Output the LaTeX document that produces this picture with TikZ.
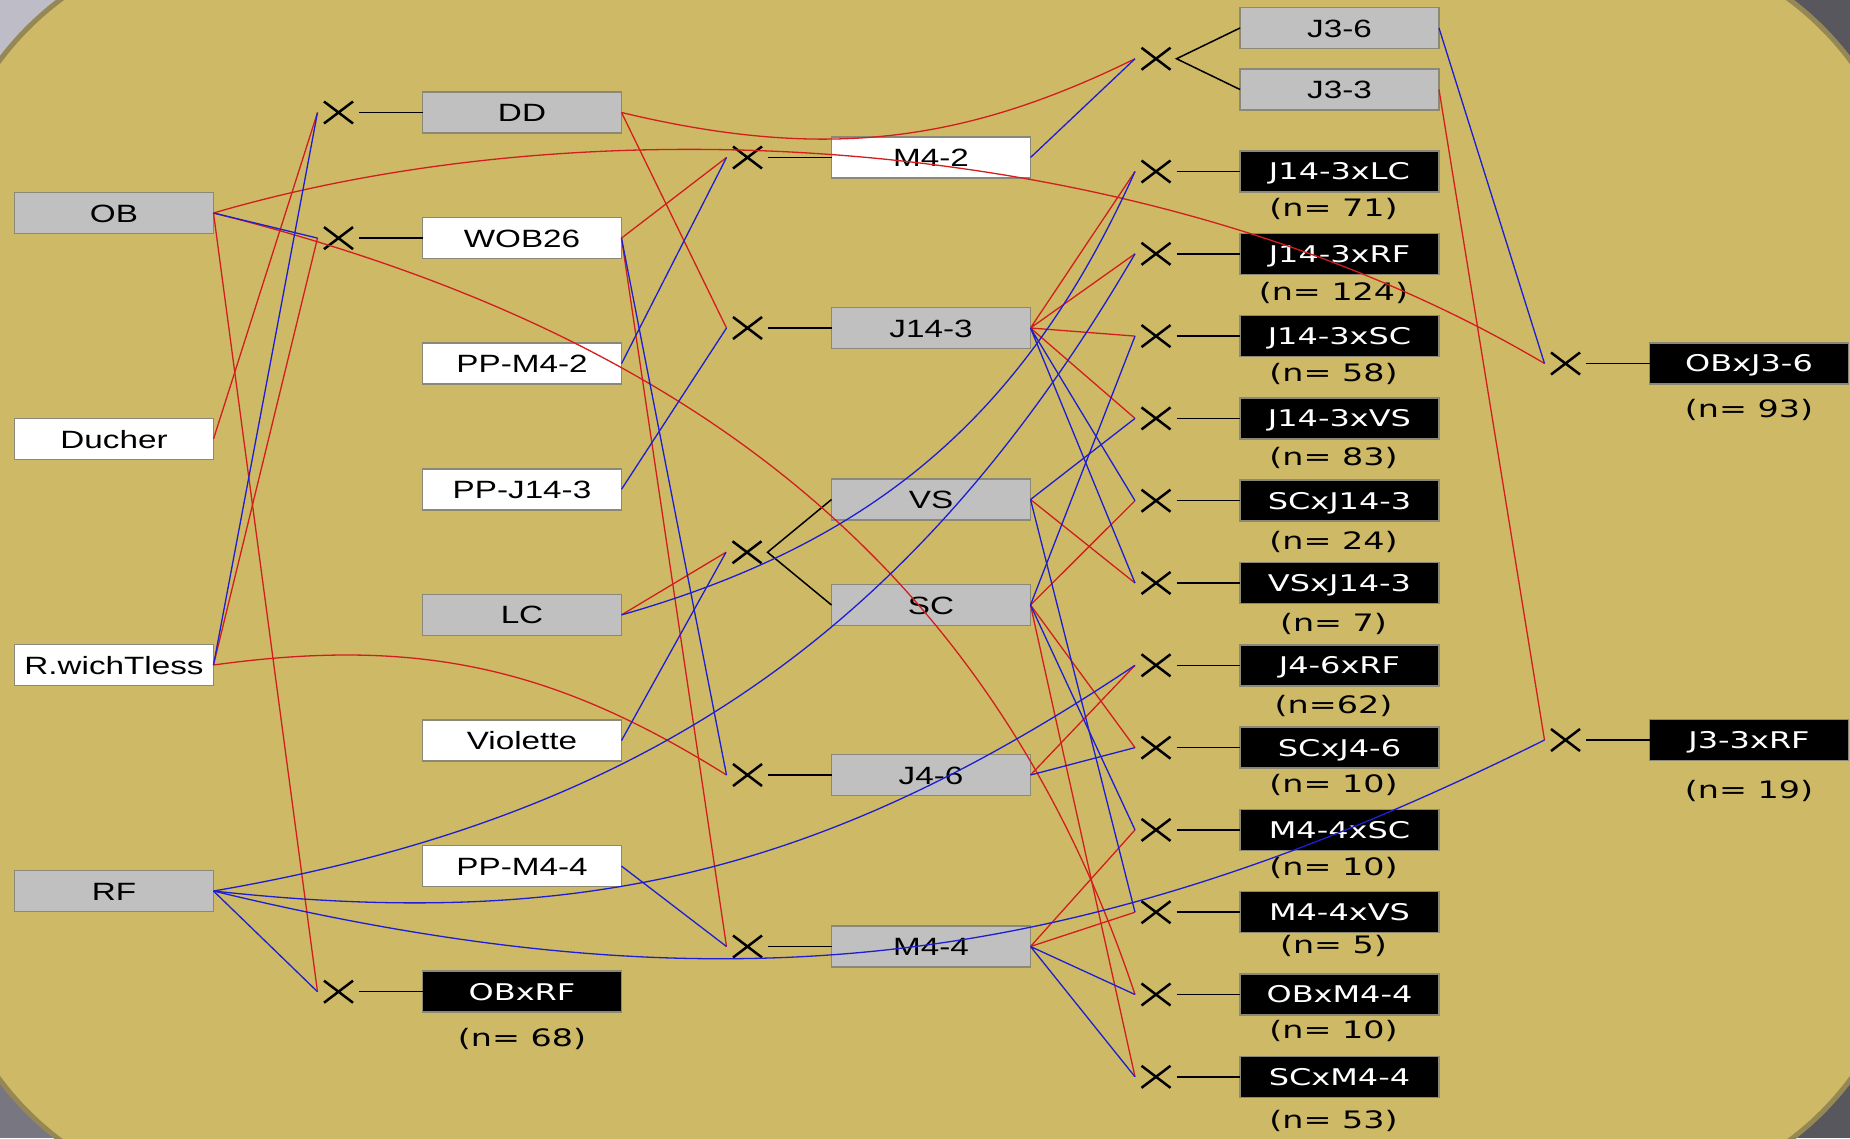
\documentclass[tikz,border=0pt]{standalone}
\usepackage{fontspec}
\setmainfont{Liberation Sans}[FakeStretch=1.33]
\newfontfamily\cntfamily{DejaVu Sans}[FakeStretch=1.39]
\usepackage{tikz}
\usetikzlibrary{shapes.misc,positioning}
\definecolor{khaki}{RGB}{205,185,102}
\definecolor{khakiedge}{RGB}{150,136,84}
\definecolor{bglight}{RGB}{190,188,198}
\definecolor{bgmid}{RGB}{120,118,128}
\definecolor{bgdark}{RGB}{88,87,94}
\definecolor{boxgray}{RGB}{192,192,192}
\definecolor{boxedge}{RGB}{140,136,120}
\definecolor{mumred}{RGB}{210,30,30}
\definecolor{dadblue}{RGB}{30,30,210}
\newcommand{\plantfont}{\fontsize{25}{30}\selectfont}
\newcommand{\crossfont}{\cntfamily\fontsize{23}{28}\selectfont}
\newcommand{\countfont}{\cntfamily\fontsize{24}{29}\selectfont}

\begin{document}
\begin{tikzpicture}[
    x=1pt, y=-1pt,
    box/.style={rectangle, draw=boxedge, line width=1.5pt, minimum width=199pt, minimum height=41pt, inner sep=0pt, outer sep=0pt, text height=18pt, text depth=0pt, font=\plantfont},
    graybox/.style={box, fill=boxgray},
    whitebox/.style={box, fill=white},
    blackbox/.style={box, fill=black, text=white, text height=16.8pt, font=\crossfont},
    count/.style={inner sep=0pt, font=\countfont, xshift=-6pt},
    xmark/.style={cross out, draw, line width=2.5pt, minimum width=29pt, minimum height=22pt, inner sep=0pt, outer sep=0pt},
    link/.style={line width=1.5pt},
    mum/.style={draw=mumred, line width=1.3pt},
    dad/.style={draw=dadblue, line width=1.3pt}
]

% Fond
\useasboundingbox (0,0) rectangle (1850,1138);
\fill[bgdark] (0,0) rectangle (1850,1138);
\fill[bglight] (0,0) rectangle (925,569);
\fill[bgmid] (0,569) rectangle (925,1138);
\filldraw[fill=khaki, draw=khakiedge, line width=5pt, rounded corners=300pt] (-60,-60) rectangle (1910,1200);

% Parents
\node[graybox] (OB) at (114,213) {OB};
\node[whitebox, below=185pt of OB] (Ducher) {Ducher};
\node[whitebox, below=185pt of Ducher] (RwT) {R.wichTless};
\node[graybox, below=185pt of RwT] (RF) {RF};

% Generation 1
\node[graybox] (DD) at (522,112.5) {DD};
\node[whitebox, below=84.6pt of DD] (WOB) {WOB26};
\node[whitebox, below=84.6pt of WOB] (PPM2) {PP-M4-2};
\node[whitebox, below=84.6pt of PPM2] (PPJ) {PP-J14-3};
\node[graybox, below=84.6pt of PPJ] (LC) {LC};
\node[whitebox, below=84.6pt of LC] (Vio) {Violette};
\node[whitebox, below=84.6pt of Vio] (PPM4) {PP-M4-4};
\node[blackbox, below=84.6pt of PPM4] (OBRF) {OBxRF};
\node[count, xshift=6pt, below=16pt of OBRF] (nOBRF) {(n= 68)};

% Generation 2
\node[whitebox] (M42) at (931,157.5) {M4-2};
\node[graybox] (J143) at (931,328) {J14-3};
\node[graybox] (VS) at (931,499.5) {VS};
\node[graybox] (SC) at (931,605) {SC};
\node[graybox] (J46) at (931,775) {J4-6};
\node[graybox] (M44) at (931,946.5) {M4-4};

% Generation 3
\node[graybox] (J36) at (1339.5,28) {J3-6};
\node[graybox, below=20.5pt of J36] (J33) {J3-3};
\node[blackbox] (JLC) at (1339.5,171.5) {J14-3xLC};
\node[blackbox, below=41.3pt of JLC] (JRF) {J14-3xRF};
\node[blackbox, below=41.3pt of JRF] (JSC) {J14-3xSC};
\node[blackbox, below=41.3pt of JSC] (JVS) {J14-3xVS};
\node[blackbox, below=41.3pt of JVS] (SCJ) {SCxJ14-3};
\node[blackbox, below=41.3pt of SCJ] (VSJ) {VSxJ14-3};
\node[blackbox, below=41.3pt of VSJ] (J4RF) {J4-6xRF};
\node[blackbox, below=41.3pt of J4RF] (SCJ4) {SCxJ4-6};
\node[blackbox, below=41.3pt of SCJ4] (M4SC) {M4-4xSC};
\node[blackbox, below=41.3pt of M4SC] (M4VS) {M4-4xVS};
\node[blackbox, below=41.3pt of M4VS] (OBM4) {OBxM4-4};
\node[blackbox, below=41.3pt of OBM4] (SCM4) {SCxM4-4};
\node[count, below=6pt of JLC] (nJLC) {(n= 71)};
\node[count, below=8pt of JRF] (nJRF) {(n= 124)};
\node[count, below=6pt of JSC] (nJSC) {(n= 58)};
\node[count, below=8pt of JVS] (nJVS) {(n= 83)};
\node[count, below=10pt of SCJ] (nSCJ) {(n= 24)};
\node[count, below=10pt of VSJ] (nVSJ) {(n= 7)};
\node[count, below=9pt of J4RF] (nJ4RF) {(n=62)};
\node[count, below=6pt of SCJ4] (nSCJ4) {(n= 10)};
\node[count, below=7pt of M4SC] (nM4SC) {(n= 10)};
\node[count, below=2pt of M4VS] (nM4VS) {(n= 5)};
\node[count, below=5pt of OBM4] (nOBM4) {(n= 10)};
\node[count, below=13pt of SCM4] (nSCM4) {(n= 53)};

% Generation 4
\node[blackbox] (OBJ36) at (1749,363.5) {OBxJ3-6};
\node[count, xshift=6pt, below=15pt of OBJ36] (nOBJ36) {(n= 93)};
\node[blackbox] (J33RF) at (1749,740) {J3-3xRF};
\node[count, xshift=6pt, below=20pt of J33RF] (nJ33RF) {(n= 19)};

% Croisements
\node[xmark, left=69.5pt of DD] (xDD) {};
\node[xmark, left=69.5pt of WOB] (xWOB) {};
\node[xmark, left=69.5pt of OBRF] (xOBRF) {};
\node[xmark, left=69.5pt of M42] (xM42) {};
\node[xmark, left=69.5pt of J143] (xJ143) {};
\node[xmark] (xVSSC) at (747,552.25) {};
\node[xmark, left=69.5pt of J46] (xJ46) {};
\node[xmark, left=69.5pt of M44] (xM44) {};
\node[xmark] (xJ3) at (1156,58.75) {};
\node[xmark, left=69.5pt of OBJ36] (xOBJ36) {};
\node[xmark, left=69.5pt of J33RF] (xJ33RF) {};
\foreach \c in {JLC,JRF,JSC,JVS,SCJ,VSJ,J4RF,SCJ4,M4SC,M4VS,OBM4,SCM4}{
  \node[xmark, left=69.5pt of \c] (x\c) {};
  \draw[link] ([xshift=6pt]x\c.east) -- (\c);
  \coordinate (j\c) at ([xshift=-6.5pt]x\c.west);
}
\foreach \c in {DD,WOB,OBRF,M42,J143,J46,M44,OBJ36,J33RF}{
  \draw[link] ([xshift=6pt]x\c.east) -- (\c);
  \coordinate (j\c) at ([xshift=-6.5pt]x\c.west);
}
\coordinate (jVSSC) at ([xshift=-6.5pt]xVSSC.west);
\coordinate (jJ3) at ([xshift=-6.5pt]xJ3.west);
\draw[link] (VS.west) -- ([xshift=6pt]xVSSC.east) -- (SC.west);
\draw[link] (J36.west) -- ([xshift=6pt]xJ3.east) -- (J33.west);

% Meres (rouge)
\draw[mum] (Ducher.east) -- (jDD);
\draw[mum] (RwT.east) -- (jWOB);
\draw[mum] (OB.east) -- (jOBRF);
\draw[mum] (WOB.east) -- (jM42);
\draw[mum] (DD.east) -- (jJ143);
\draw[mum] (LC.east) -- (jVSSC);
\draw[mum] (WOB.east) -- (jM44);
\draw[mum] (J143.east) -- (jJLC) (J143.east) -- (jJRF) (J143.east) -- (jJSC) (J143.east) -- (jJVS);
\draw[mum] (SC.east) -- (jSCJ) (SC.east) -- (jSCJ4) (SC.east) -- (jSCM4);
\draw[mum] (VS.east) -- (jVSJ);
\draw[mum] (J46.east) -- (jJ4RF);
\draw[mum] (M44.east) -- (jM4SC) (M44.east) -- (jM4VS);
\draw[mum] (J33.east) -- (jJ33RF);
\draw[mum] (OB.east) .. controls (600,100) and (1150,130) .. (jOBJ36);
\draw[mum] (OB.east) .. controls (680,330) and (990,560) .. (jOBM4);
\draw[mum] (RwT.east) .. controls (416.5,637) and (552.4,666) .. (jJ46);
\draw[mum] (DD.east) .. controls (820,160) and (960,145) .. (jJ3);

% Peres (bleu)
\draw[dad] (RwT.east) -- (jDD);
\draw[dad] (OB.east) -- (jWOB);
\draw[dad] (RF.east) -- (jOBRF);
\draw[dad] (PPM2.east) -- (jM42);
\draw[dad] (PPJ.east) -- (jJ143);
\draw[dad] (Vio.east) -- (jVSSC);
\draw[dad] (WOB.east) -- (jJ46);
\draw[dad] (PPM4.east) -- (jM44);
\draw[dad] (M42.east) -- (jJ3);
\draw[dad] (J143.east) -- (jSCJ) (J143.east) -- (jVSJ);
\draw[dad] (SC.east) -- (jJSC) (SC.east) -- (jM4SC);
\draw[dad] (VS.east) -- (jJVS) (VS.east) -- (jM4VS);
\draw[dad] (J46.east) -- (jSCJ4);
\draw[dad] (M44.east) -- (jOBM4) (M44.east) -- (jSCM4);
\draw[dad] (J36.east) -- (jOBJ36);
\draw[dad] (LC.east) .. controls (877,542) and (1026,413.5) .. (jJLC);
\draw[dad] (RF.east) .. controls (645.5,817) and (913.6,632.2) .. (jJRF);
\draw[dad] (RF.east) .. controls (582.5,931.4) and (826.3,871.8) .. (jJ4RF);
\draw[dad] (RF.east) .. controls (722.5,1013.6) and (1075,973.6) .. (jJ33RF);

\end{tikzpicture}
\end{document}
